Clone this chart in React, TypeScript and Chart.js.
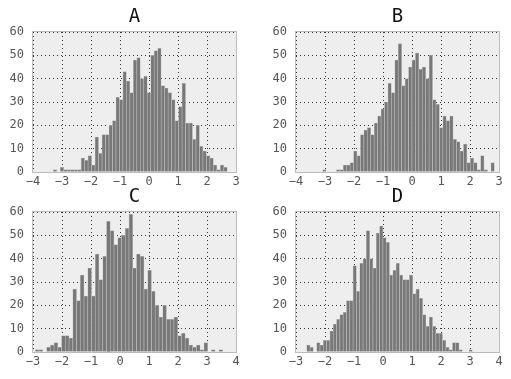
import { useEffect, useRef } from "react";
import { Chart, registerables } from "chart.js";

Chart.register(...registerables);

// ---- data (histogram counts, 50 bins each) ----
const titles = ["A", "B", "C", "D"];

const countsA = [
  1, 0, 2, 1, 1, 1, 1, 1, 6, 5,
  7, 3, 15, 8, 16, 16, 20, 22, 32, 31,
  43, 39, 34, 48, 49, 40, 41, 34, 50, 52,
  53, 37, 36, 34, 31, 22, 28, 38, 21, 21,
  14, 20, 11, 9, 7, 6, 3, 1, 3, 2,
];
const binRangeA = [-3.3, 2.7];

const countsB = [
  1, 0, 0, 0, 1, 1, 3, 3, 4, 9,
  7, 16, 18, 19, 16, 21, 24, 27, 30, 38,
  34, 48, 55, 37, 40, 45, 48, 51, 44, 45,
  40, 50, 31, 29, 19, 24, 22, 24, 14, 13,
  9, 12, 4, 6, 4, 1, 7, 1, 0, 4,
];
const binRangeB = [-3.08, 2.84];

const countsC = [
  1, 1, 0, 2, 3, 4, 2, 7, 7, 6,
  27, 22, 33, 24, 36, 24, 42, 31, 41, 56,
  52, 46, 49, 50, 53, 59, 36, 42, 41, 27,
  35, 26, 20, 15, 20, 14, 14, 15, 7, 8,
  6, 3, 2, 3, 1, 4, 0, 1, 0, 1,
];
const binRangeC = [-2.92, 3.54];

const countsD = [
  3, 2, 0, 4, 3, 5, 5, 9, 12, 14,
  16, 17, 22, 22, 37, 26, 38, 40, 52, 40,
  36, 51, 54, 49, 47, 33, 35, 38, 33, 31,
  31, 33, 25, 27, 23, 16, 11, 15, 11, 8,
  8, 5, 2, 1, 4, 4, 1, 0, 0, 1,
];
const binRangeD = [-2.63, 3.08];

const xLimitsTop = [-4, 3];
const xLimitsBottom = [-3, 4];
const yLimits = [0, 60];
const xTickStep = 1;
const yTickStep = 10;

// ---- styles ----
const FONT = "'DejaVu Sans Mono', monospace";
const BAR_FILL = "#787878";
const BAR_EDGE = "#c2c2c2";
const AX_BG = "#eeeeee";
const SPINE = "#bcbcbc";
const GRID = "#333333";
const TICK_COLOR = "#555555";

const fmt = (v: number) => (v < 0 ? "\u2212" + Math.abs(v) : String(v));

const framePlugin = {
  id: "frame",
  beforeDraw(chart: any) {
    const { ctx, chartArea: a } = chart;
    ctx.save();
    ctx.fillStyle = AX_BG;
    ctx.fillRect(a.left, a.top, a.right - a.left, a.bottom - a.top);
    ctx.restore();
  },
  afterDraw(chart: any) {
    const { ctx, chartArea: a } = chart;
    ctx.save();
    ctx.strokeStyle = SPINE;
    ctx.lineWidth = 1;
    ctx.strokeRect(a.left - 0.5, a.top - 0.5, a.right - a.left + 1, a.bottom - a.top + 1);
    ctx.restore();
  },
};

type Panel = {
  title: string;
  counts: number[];
  range: number[];
  xlim: number[];
  left: number;
  top: number;
  width: number;
  height: number;
  yAxisW: number;
  padRight: number;
};

const panels: Panel[] = [
  { title: titles[0], counts: countsA, range: binRangeA, xlim: xLimitsTop, left: 0, top: 0, width: 255, height: 190, yAxisW: 33, padRight: 19 },
  { title: titles[1], counts: countsB, range: binRangeB, xlim: xLimitsTop, left: 256, top: 0, width: 255, height: 190, yAxisW: 40, padRight: 12 },
  { title: titles[2], counts: countsC, range: binRangeC, xlim: xLimitsBottom, left: 0, top: 180, width: 255, height: 190, yAxisW: 33, padRight: 19 },
  { title: titles[3], counts: countsD, range: binRangeD, xlim: xLimitsBottom, left: 256, top: 180, width: 255, height: 190, yAxisW: 40, padRight: 12 },
];

function Hist({ p }: { p: Panel }) {
  const ref = useRef<HTMLCanvasElement | null>(null);
  useEffect(() => {
    if (!ref.current) return;
    const w = (p.range[1] - p.range[0]) / p.counts.length;
    const data = p.counts.map((c, i) => ({ x: p.range[0] + w * (i + 0.5), y: c }));
    const chart = new Chart(ref.current, {
      type: "bar",
      data: {
        datasets: [
          {
            data: data as any,
            backgroundColor: BAR_FILL,
            borderColor: BAR_EDGE,
            borderWidth: 0.6,
            barPercentage: 1,
            categoryPercentage: 1,
            borderSkipped: "start",
          },
        ],
      },
      options: {
        animation: false,
        responsive: false,
        events: [],
        layout: { padding: { left: 0, right: p.padRight, top: 0, bottom: 0 } },
        plugins: {
          legend: { display: false },
          tooltip: { enabled: false },
          title: {
            display: true,
            text: p.title,
            fullSize: false,
            color: "#111111",
            font: { family: FONT, size: 19, weight: "normal", lineHeight: 1.2 },
            padding: { top: 6, bottom: 3.2 },
          },
        },
        scales: {
          x: {
            type: "linear",
            min: p.xlim[0],
            max: p.xlim[1],
            offset: false,
            z: 1,
            afterFit: (s: any) => {
              s.height = 18;
            },
            ticks: {
              stepSize: xTickStep,
              autoSkip: false,
              maxRotation: 0,
              padding: 3,
              color: TICK_COLOR,
              font: { family: FONT, size: 12 },
              callback: (v: any) => fmt(Number(v)),
            },
            grid: { color: GRID, lineWidth: 1, drawTicks: false, offset: false },
            border: { display: false, dash: [1, 3] },
          },
          y: {
            min: yLimits[0],
            max: yLimits[1],
            z: 1,
            afterFit: (s: any) => {
              s.width = p.yAxisW;
            },
            ticks: {
              stepSize: yTickStep,
              padding: 9,
              color: TICK_COLOR,
              font: { family: FONT, size: 12 },
              callback: (v: any) => fmt(Number(v)),
            },
            grid: { color: GRID, lineWidth: 1, drawTicks: false },
            border: { display: false, dash: [1, 3] },
          },
        },
      },
      plugins: [framePlugin],
    });
    return () => chart.destroy();
  }, [p]);
  return (
    <canvas
      ref={ref}
      width={p.width}
      height={p.height}
      style={{ position: "absolute", left: p.left, top: p.top, width: p.width, height: p.height }}
    />
  );
}

export default function App() {
  return (
    <div style={{ position: "fixed", left: 0, top: 0, width: 511, height: 379, background: "#ffffff", overflow: "hidden" }}>
      {panels.map((p) => (
        <Hist key={p.title} p={p} />
      ))}
    </div>
  );
}
